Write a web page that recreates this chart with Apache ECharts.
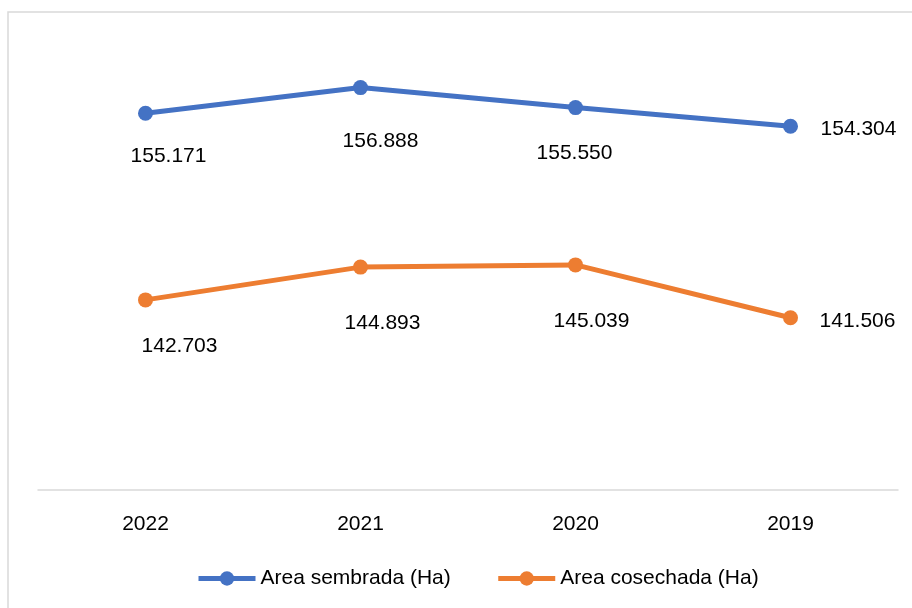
<!DOCTYPE html>
<html>
<head>
<meta charset="utf-8">
<script src="https://cdn.jsdelivr.net/npm/echarts@6/dist/echarts.min.js"></script>
<style>
html,body{margin:0;padding:0;background:#fff;}
#chart{width:912px;height:608px;}
</style>
</head>
<body>
<div id="chart"></div>
<script>
const categories = ['2022', '2021', '2020', '2019'];
const seriesNames = ['Area sembrada (Ha)', 'Area cosechada (Ha)'];
const areaSembrada = [155171, 156888, 155550, 154304];
const areaCosechada = [142703, 144893, 145039, 141506];

const colors = ['#4472C4', '#ED7D31'];
const labelOffsets = [
  [[23, 43], [20, 54], [-1, 46], [68, 3]],
  [[34, 46], [22, 56], [16, 56], [67, 3]]
];

function fmt(v) {
  return String(Math.round(v)).replace(/\B(?=(\d{3})+(?!\d))/g, '.');
}

function makeSeries(name, values, idx) {
  return {
    name: name,
    type: 'line',
    data: values.map((v, i) => ({
      value: v,
      label: { offset: labelOffsets[idx][i] }
    })),
    symbol: 'circle',
    symbolSize: 15,
    showAllSymbol: true,
    lineStyle: { width: 5, color: colors[idx] },
    itemStyle: { color: colors[idx] },
    label: {
      show: true,
      position: 'inside',
      align: 'center',
      verticalAlign: 'middle',
      fontFamily: 'Liberation Sans',
      fontSize: 21,
      color: '#000',
      formatter: p => fmt(p.value)
    },
    emphasis: { disabled: true }
  };
}

const chart = echarts.init(document.getElementById('chart'));
chart.setOption({
  animation: false,
  backgroundColor: '#fff',
  color: colors,
  graphic: [{
    type: 'rect',
    shape: { x: 8, y: 12, width: 1000, height: 700 },
    style: { fill: 'none', stroke: '#D9D9D9', lineWidth: 1.5 },
    silent: true,
    z: -1
  }],
  grid: { left: 38, right: 14, top: 41, bottom: 118, containLabel: false },
  xAxis: {
    type: 'category',
    data: categories,
    boundaryGap: true,
    axisLine: { show: true, lineStyle: { color: '#D9D9D9', width: 1.5 } },
    axisTick: { show: false },
    axisLabel: { margin: 24, fontFamily: 'Liberation Sans', fontSize: 21, color: '#000' },
    splitLine: { show: false }
  },
  yAxis: {
    type: 'value',
    min: 130000,
    max: 160000,
    show: false,
    splitLine: { show: false }
  },
  legend: {
    data: seriesNames,
    left: 191,
    top: 563,
    itemWidth: 57,
    itemHeight: 18,
    itemGap: 45,
    lineStyle: { width: 5 },
    textStyle: { fontFamily: 'Liberation Sans', fontSize: 21, color: '#000' }
  },
  series: [
    makeSeries(seriesNames[0], areaSembrada, 0),
    makeSeries(seriesNames[1], areaCosechada, 1)
  ]
});
</script>
</body>
</html>
